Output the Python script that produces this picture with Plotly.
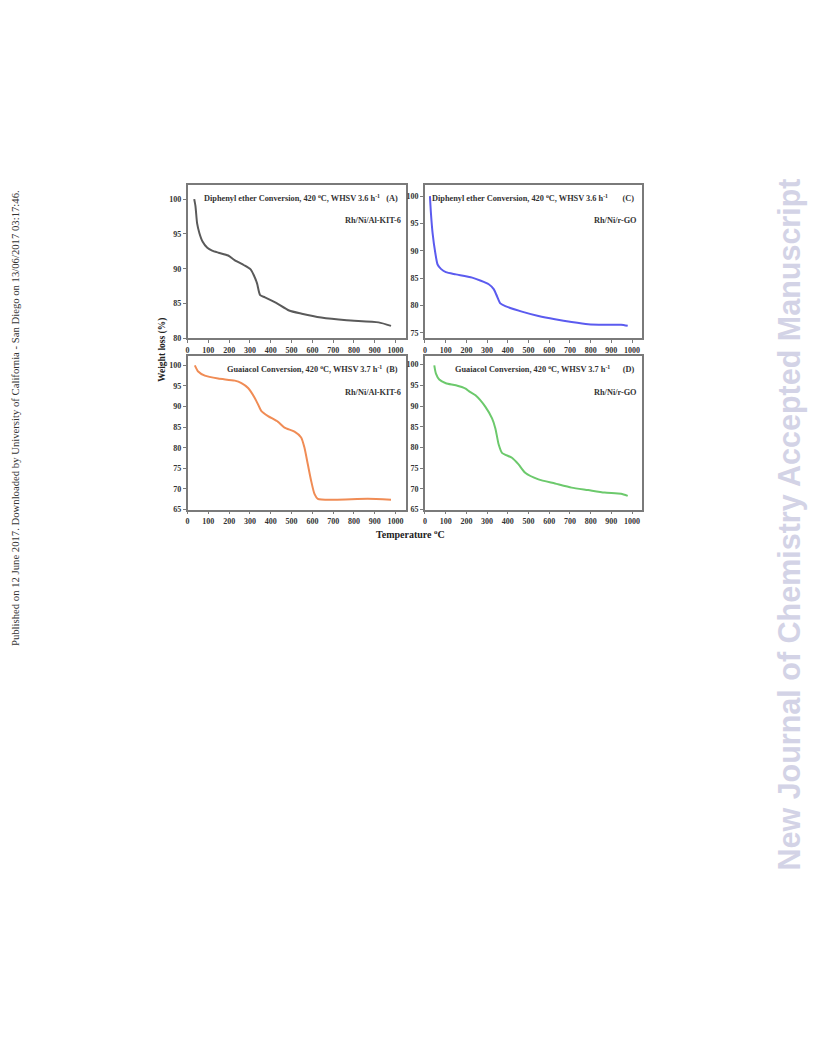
import plotly.graph_objects as go

W, H = 816, 1056
OFF = 8  # browser body margin
FW, FH = W - 2 * OFF, H - 2 * OFF

# ---------------- data ----------------
temp_A = [32, 38, 46, 57, 72, 95, 118, 149, 195, 226, 272, 303, 318, 334, 349, 372, 426, 488, 549, 642, 765, 918, 978]
wl_A = [100, 99.0, 96.5, 95.1, 93.9, 93.0, 92.6, 92.3, 91.9, 91.25, 90.5, 89.9, 89.1, 87.9, 86.2, 85.9, 85.1, 84.0, 83.55, 83.0, 82.6, 82.3, 81.8]

temp_C = [24, 29, 37, 50, 61, 77, 101, 149, 228, 308, 332, 348, 364, 388, 468, 548, 628, 708, 788, 867, 947, 979]
wl_C = [100, 96.8, 93.2, 89.6, 87.5, 86.7, 86.1, 85.7, 85.1, 83.9, 83.0, 81.7, 80.4, 79.9, 78.9, 78.1, 77.5, 77.0, 76.6, 76.5, 76.5, 76.3]

temp_B = [35, 51, 83, 147, 227, 259, 291, 323, 339, 355, 387, 435, 466, 514, 546, 562, 578, 594, 610, 626, 706, 866, 978]
wl_B = [100, 98.5, 97.5, 96.8, 96.3, 95.7, 94.5, 92.1, 90.5, 88.9, 87.7, 86.3, 84.9, 83.9, 82.5, 80.0, 76.0, 72.0, 68.8, 67.6, 67.4, 67.6, 67.4]

temp_D = [45, 53, 69, 101, 149, 196, 212, 244, 292, 324, 340, 356, 372, 420, 452, 484, 548, 628, 708, 788, 867, 947, 979]
wl_D = [99.8, 97.8, 96.4, 95.5, 95.0, 94.2, 93.6, 92.6, 89.8, 87.0, 84.6, 80.7, 78.7, 77.5, 75.9, 73.9, 72.3, 71.3, 70.3, 69.7, 69.1, 68.8, 68.3]

x_ticks = [0, 100, 200, 300, 400, 500, 600, 700, 800, 900, 1000]
y_ticks_A = [80, 85, 90, 95, 100]
y_ticks_C = [75, 80, 85, 90, 95, 100]
y_ticks_BD = [65, 70, 75, 80, 85, 90, 95, 100]

titles = {
    "A": "Diphenyl ether Conversion, 420 <sup>o</sup>C, WHSV 3.6 h<sup>-1</sup>   (A)",
    "C": "Diphenyl ether Conversion, 420 <sup>o</sup>C, WHSV 3.6 h<sup>-1</sup>       (C)",
    "B": "Guaiacol Conversion, 420 <sup>o</sup>C, WHSV 3.7 h<sup>-1</sup>  (B)",
    "D": "Guaiacol Conversion, 420 <sup>o</sup>C, WHSV 3.7 h<sup>-1</sup>      (D)",
}
catalysts = {"A": "Rh/Ni/Al-KIT-6", "C": "Rh/Ni/r-GO", "B": "Rh/Ni/Al-KIT-6", "D": "Rh/Ni/r-GO"}
colors = {"A": "#5a5a5a", "C": "#5b5bef", "B": "#f08c55", "D": "#6cc96c"}


def px(x):
    return (x - OFF) / FW


def py(y):
    return 1 - (y - OFF) / FH


# panel boxes in page pixels (left, right, top, bottom)
boxes = {
    "A": (186, 405, 186, 340),
    "C": (424, 642, 186, 340),
    "B": (186, 405, 358, 512),
    "D": (424, 642, 358, 512),
}
yranges = {"A": [80, 102], "C": [74, 102], "B": [65, 102.2], "D": [65, 102]}
yticks = {"A": y_ticks_A, "C": y_ticks_C, "B": y_ticks_BD, "D": y_ticks_BD}
data = {"A": (temp_A, wl_A), "C": (temp_C, wl_C), "B": (temp_B, wl_B), "D": (temp_D, wl_D)}

fig = go.Figure()
layout = {}
annotations = []
tickfont = dict(family="Liberation Serif", size=8, color="#333333", weight="bold")
afont = dict(family="Liberation Serif", size=8.3, color="#333333", weight="bold")

for i, key in enumerate(["A", "C", "B", "D"]):
    n = "" if i == 0 else str(i + 1)
    l, r, t, b = boxes[key]
    xs, ys = data[key]
    fig.add_trace(go.Scatter(x=xs, y=ys, mode="lines",
                             line=dict(color=colors[key], width=2, shape="spline", smoothing=0.6),
                             xaxis="x" + n, yaxis="y" + n, showlegend=False))
    common = dict(showline=True, linecolor="#7a7a7a", linewidth=1.5, mirror=True, showgrid=False,
                  zeroline=False, ticks="outside", ticklen=3, tickcolor="#7a7a7a", tickfont=tickfont)
    layout["xaxis" + n] = dict(domain=[px(l), px(r)], range=[0, 1050], tickvals=x_ticks,
                                anchor="y" + n, **common)
    layout["yaxis" + n] = dict(domain=[py(b), py(t)], range=yranges[key], tickvals=yticks[key],
                                anchor="x" + n, **common)
    annotations.append(dict(xref="paper", yref="paper", x=px(r - 6), y=py(t + 13), xanchor="right",
                            yanchor="middle", text=titles[key], showarrow=False, font=afont))
    annotations.append(dict(xref="paper", yref="paper", x=px(r - 3), y=py(t + 36), xanchor="right",
                            yanchor="middle", text=catalysts[key], showarrow=False, font=afont))

annotations.append(dict(xref="paper", yref="paper", x=px(161), y=py(352), text="Weight loss (%)", textangle=-90,
                        showarrow=False, xanchor="center", yanchor="middle",
                        font=dict(family="Liberation Serif", size=9.5, color="#222222", weight="bold")))
annotations.append(dict(xref="paper", yref="paper", x=px(410), y=py(537), text="Temperature <sup>o</sup>C",
                        showarrow=False, xanchor="center", yanchor="middle",
                        font=dict(family="Liberation Serif", size=10, color="#222222", weight="bold")))
annotations.append(dict(xref="paper", yref="paper", x=px(13), y=py(420),
                        text="Published on 12 June 2017. Downloaded by University of California - San Diego on 13/06/2017 03:17:46.",
                        textangle=-90, showarrow=False, xanchor="center", yanchor="middle",
                        font=dict(family="Liberation Serif", size=10.7, color="#333333")))
annotations.append(dict(xref="paper", yref="paper", x=px(789), y=py(527),
                        text="New Journal of Chemistry Accepted Manuscript",
                        textangle=-90, showarrow=False, xanchor="center", yanchor="middle",
                        font=dict(family="Liberation Sans", size=30.5, color="#d3d3e6", weight="bold")))

fig.update_layout(width=FW, height=FH, margin=dict(l=0, r=0, t=0, b=0), paper_bgcolor="white",
                  plot_bgcolor="white", annotations=annotations, **layout)
fig.write_html("out.html")
